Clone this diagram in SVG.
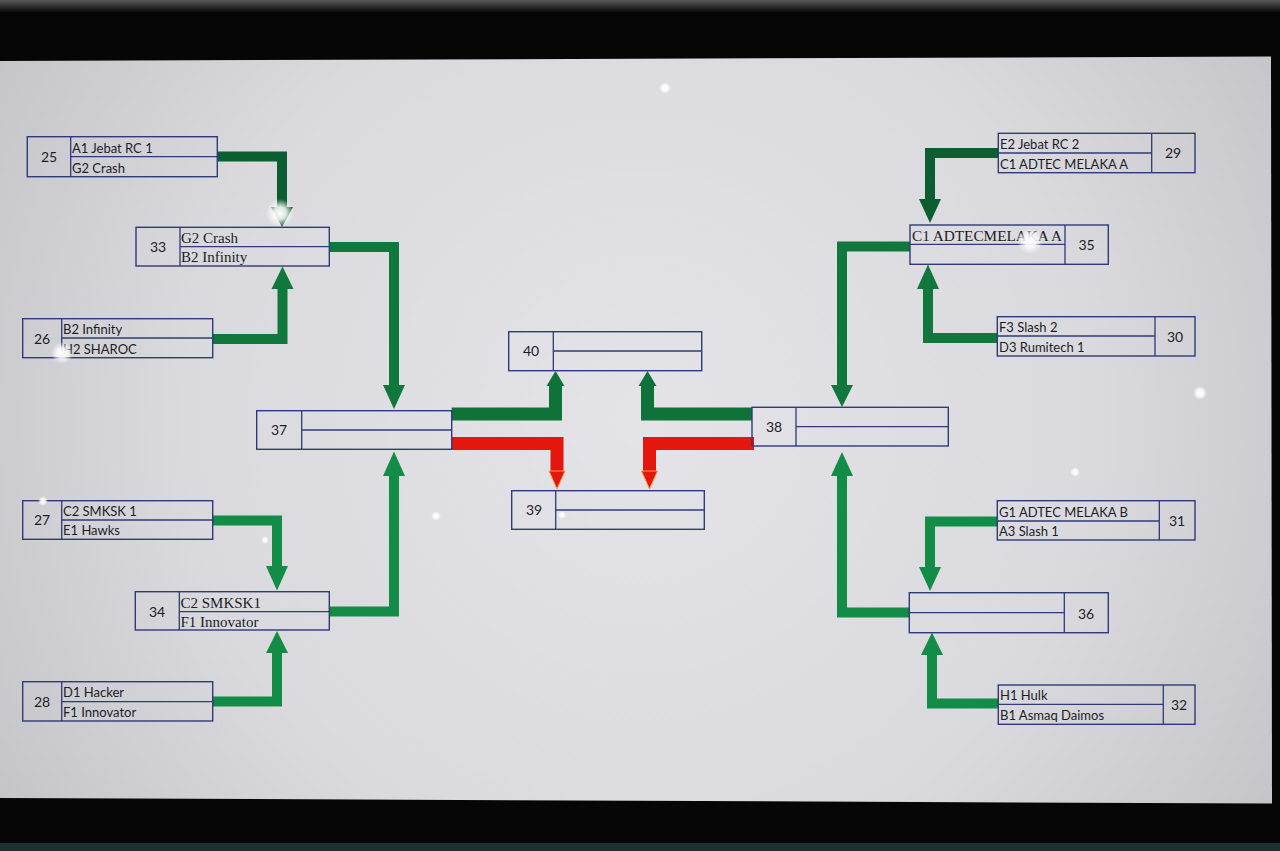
<svg xmlns="http://www.w3.org/2000/svg" width="1280" height="851" viewBox="0 0 1280 851">
<defs>
<radialGradient id="scr" cx="640" cy="420" r="760" gradientUnits="userSpaceOnUse">
<stop offset="0" stop-color="#e4e4e8"/>
<stop offset="0.6" stop-color="#dadade"/>
<stop offset="1" stop-color="#c4c4c8"/>
</radialGradient>
<radialGradient id="glow">
<stop offset="0" stop-color="#ffffff" stop-opacity="1"/>
<stop offset="0.45" stop-color="#ffffff" stop-opacity="0.85"/>
<stop offset="1" stop-color="#ffffff" stop-opacity="0"/>
</radialGradient>
<linearGradient id="topband" x1="0" y1="0" x2="0" y2="1">
<stop offset="0" stop-color="#5a5a5a"/>
<stop offset="1" stop-color="#0a0a0a"/>
</linearGradient>
</defs>
<style>
.box rect.o{fill:none;stroke:#2f3a78;stroke-width:1.4}
.box line{stroke:#2f3a78;stroke-width:1.3}
.sans{font-family:Lato,"Liberation Sans",sans-serif;font-size:13px;fill:#1c1c28}
.num{font-family:Lato,"Liberation Sans",sans-serif;font-size:14px;fill:#1c1c28;text-anchor:middle}
.serif{font-family:"Liberation Serif","Times New Roman",serif;font-size:15px;fill:#1c1c28}
.g1{fill:none;stroke:#0c5e31;stroke-width:10;stroke-linejoin:miter}
.g2{fill:none;stroke:#10773d;stroke-width:10;stroke-linejoin:miter}
.g3{fill:none;stroke:#128c47;stroke-width:10;stroke-linejoin:miter}
.gc{fill:none;stroke:#0f7339;stroke-width:13;stroke-linejoin:miter}
.rc{fill:none;stroke:#e3170d;stroke-width:13;stroke-linejoin:miter}
.h1{fill:#0c5e31}.h2{fill:#10773d}.h3{fill:#128c47}.hc{fill:#0f7339}.hr{fill:#e3170d;stroke:#f2a040;stroke-width:1}
</style>
<!-- photo frame -->
<rect x="0" y="0" width="1280" height="851" fill="#060606"/>
<rect x="0" y="0" width="1280" height="12" fill="url(#topband)"/>
<rect x="0" y="843" width="1280" height="8" fill="#1b302f"/>
<polygon points="0,61 1271,56.5 1272,803.5 0,798" fill="url(#scr)"/>

<g id="connectors">
<path class="g1" d="M217.3 156.5 H282 V209"/>
<polygon class="h1" points="271,207 293,207 282,227"/>
<path class="g2" d="M212.7 339 H282.5 V287"/>
<polygon class="h2" points="271.5,289 293.5,289 282.5,266.5"/>
<path class="g2" d="M329.3 247 H394 V387"/>
<polygon class="h2" points="383,385 405,385 394,409"/>
<path class="g3" d="M329.3 611.5 H394 V476"/>
<polygon class="h3" points="383,476 405,476 394,451.5"/>
<path class="g3" d="M212.7 520.5 H277 V567"/>
<polygon class="h3" points="266,566 288,566 277,590.5"/>
<path class="g3" d="M212.7 701.5 H277 V652"/>
<polygon class="h3" points="266,653 288,653 277,631"/>

<path class="gc" d="M451.7 414 H555.5 V384"/>
<polygon class="hc" points="546.5,386 564.5,386 555.5,371"/>
<path class="gc" d="M752 414 H647.5 V384"/>
<polygon class="hc" points="638.5,386 656.5,386 647.5,371"/>
<path class="rc" d="M451.7 443.5 H557 V473"/>
<polygon class="hr" points="549,471 565,471 557,489"/>
<path class="rc" d="M754 443.5 H649.5 V473"/>
<polygon class="hr" points="641.5,471 657.5,471 649.5,489"/>

<path class="g1" d="M998.3 153 H930 V201"/>
<polygon class="h1" points="919,199 941,199 930,223"/>
<path class="g2" d="M997.3 338 H928 V287"/>
<polygon class="h2" points="917,289 939,289 928,264.5"/>
<path class="g2" d="M910 246.5 H842 V386"/>
<polygon class="h2" points="831,385 853,385 842,407"/>
<path class="g3" d="M909.3 612.5 H842 V475"/>
<polygon class="h3" points="831,476 853,476 842,452"/>
<path class="g3" d="M997.3 521.5 H930 V568"/>
<polygon class="h3" points="919,567 941,567 930,591"/>
<path class="g3" d="M998.3 703.5 H932 V653"/>
<polygon class="h3" points="921,655 943,655 932,632.5"/>
</g>

<g id="n25" class="box"><rect class="o" x="27.3" y="136.7" width="190" height="40"/><line x1="70.7" y1="136.7" x2="70.7" y2="176.7"/><line x1="70.7" y1="156.7" x2="217.3" y2="156.7"/><text class="num" x="49" y="162">25</text><text class="sans" x="72" y="152.5">A1 Jebat RC 1</text><text class="sans" x="72" y="172.5">G2 Crash</text></g>
<g id="n33" class="box"><rect class="o" x="136" y="227.3" width="193.3" height="38.7"/><line x1="180" y1="227.3" x2="180" y2="266"/><line x1="180" y1="246.7" x2="329.3" y2="246.7"/><text class="num" x="158" y="252">33</text><text class="serif" x="181" y="243">G2 Crash</text><text class="serif" x="181" y="262">B2 Infinity</text></g>
<g id="n26" class="box"><rect class="o" x="22.7" y="318.7" width="190" height="39"/><line x1="61.7" y1="318.7" x2="61.7" y2="357.7"/><line x1="61.7" y1="338" x2="212.7" y2="338"/><text class="num" x="42" y="343.5">26</text><text class="sans" x="63" y="334">B2 Infinity</text><text class="sans" x="63" y="353.5">H2 SHAROC</text></g>
<g id="n27" class="box"><rect class="o" x="22.7" y="500.7" width="190" height="38.6"/><line x1="61.7" y1="500.7" x2="61.7" y2="539.3"/><line x1="61.7" y1="520" x2="212.7" y2="520"/><text class="num" x="42" y="525">27</text><text class="sans" x="63" y="516">C2 SMKSK 1</text><text class="sans" x="63" y="535">E1 Hawks</text></g>
<g id="n34" class="box"><rect class="o" x="135.3" y="591.7" width="194" height="38.3"/><line x1="179.3" y1="591.7" x2="179.3" y2="630"/><line x1="179.3" y1="611.7" x2="329.3" y2="611.7"/><text class="num" x="157" y="617">34</text><text class="serif" x="180.5" y="607.5">C2 SMKSK1</text><text class="serif" x="180.5" y="626.5">F1 Innovator</text></g>
<g id="n28" class="box"><rect class="o" x="22.7" y="681.7" width="190" height="39.3"/><line x1="61.7" y1="681.7" x2="61.7" y2="721"/><line x1="61.7" y1="701.7" x2="212.7" y2="701.7"/><text class="num" x="42" y="707">28</text><text class="sans" x="63" y="697">D1 Hacker</text><text class="sans" x="63" y="717">F1 Innovator</text></g>
<g id="n37" class="box"><rect class="o" x="256.7" y="410.7" width="195" height="38.6"/><line x1="301.7" y1="410.7" x2="301.7" y2="449.3"/><line x1="301.7" y1="430" x2="451.7" y2="430"/><text class="num" x="279" y="435">37</text></g>
<g id="n40" class="box"><rect class="o" x="508.7" y="331.7" width="193" height="39"/><line x1="553.3" y1="331.7" x2="553.3" y2="370.7"/><line x1="553.3" y1="351" x2="701.7" y2="351"/><text class="num" x="531" y="356">40</text></g>
<g id="n39" class="box"><rect class="o" x="511.7" y="490.7" width="192.6" height="38.6"/><line x1="555.7" y1="490.7" x2="555.7" y2="529.3"/><line x1="555.7" y1="510" x2="704.3" y2="510"/><text class="num" x="534" y="515">39</text></g>
<g id="n38" class="box"><rect class="o" x="752" y="407.3" width="196.3" height="38.7"/><line x1="796" y1="407.3" x2="796" y2="446"/><line x1="796" y1="426.7" x2="948.3" y2="426.7"/><text class="num" x="774" y="432">38</text></g>
<g id="n29" class="box"><rect class="o" x="998.3" y="133.3" width="196.7" height="39.4"/><line x1="1151.7" y1="133.3" x2="1151.7" y2="172.7"/><line x1="998.3" y1="153" x2="1151.7" y2="153"/><text class="num" x="1173" y="158">29</text><text class="sans" x="1000" y="149">E2 Jebat RC 2</text><text class="sans" x="1000" y="168.5">C1 ADTEC MELAKA A</text></g>
<g id="n35" class="box"><rect class="o" x="910" y="225" width="198.3" height="39.3"/><line x1="1065" y1="225" x2="1065" y2="264.3"/><line x1="910" y1="244.3" x2="1065" y2="244.3"/><text class="num" x="1086.5" y="250">35</text><text class="serif" x="912" y="240.5" font-size="14" textLength="150" lengthAdjust="spacingAndGlyphs">C1 ADTECMELAKA A</text></g>
<g id="n30" class="box"><rect class="o" x="997.3" y="316.7" width="197.7" height="39.3"/><line x1="1155" y1="316.7" x2="1155" y2="356"/><line x1="997.3" y1="336" x2="1155" y2="336"/><text class="num" x="1175" y="341.5">30</text><text class="sans" x="999" y="332">F3 Slash 2</text><text class="sans" x="999" y="351.5">D3 Rumitech 1</text></g>
<g id="n31" class="box"><rect class="o" x="997.3" y="500.7" width="197.7" height="39.3"/><line x1="1159.3" y1="500.7" x2="1159.3" y2="540"/><line x1="997.3" y1="521" x2="1159.3" y2="521"/><text class="num" x="1177" y="526">31</text><text class="sans" x="999" y="516.5">G1 ADTEC MELAKA B</text><text class="sans" x="999" y="536">A3 Slash 1</text></g>
<g id="n36" class="box"><rect class="o" x="909.3" y="592.7" width="199" height="40"/><line x1="1064.3" y1="592.7" x2="1064.3" y2="632.7"/><line x1="909.3" y1="612.7" x2="1064.3" y2="612.7"/><text class="num" x="1086" y="618.5">36</text></g>
<g id="n32" class="box"><rect class="o" x="998.3" y="685" width="196.7" height="39.3"/><line x1="1163.3" y1="685" x2="1163.3" y2="724.3"/><line x1="998.3" y1="704.3" x2="1163.3" y2="704.3"/><text class="num" x="1179" y="710">32</text><text class="sans" x="1000" y="700">H1 Hulk</text><text class="sans" x="1000" y="720">B1 Asmaq Daimos</text></g>

<g id="glare">
<circle cx="280" cy="213" r="14" fill="url(#glow)"/>
<circle cx="1030" cy="241" r="13" fill="url(#glow)"/>
<circle cx="62" cy="353" r="11" fill="url(#glow)"/>
<circle cx="1200" cy="393" r="7" fill="url(#glow)"/>
<circle cx="1075" cy="472" r="5" fill="url(#glow)"/>
<circle cx="43" cy="501" r="5" fill="url(#glow)"/>
<circle cx="436" cy="516" r="5" fill="url(#glow)"/>
<circle cx="665" cy="88" r="6" fill="url(#glow)"/>
<circle cx="562" cy="515" r="4" fill="url(#glow)"/>
<circle cx="265" cy="540" r="4" fill="url(#glow)"/>
</g>
</svg>
